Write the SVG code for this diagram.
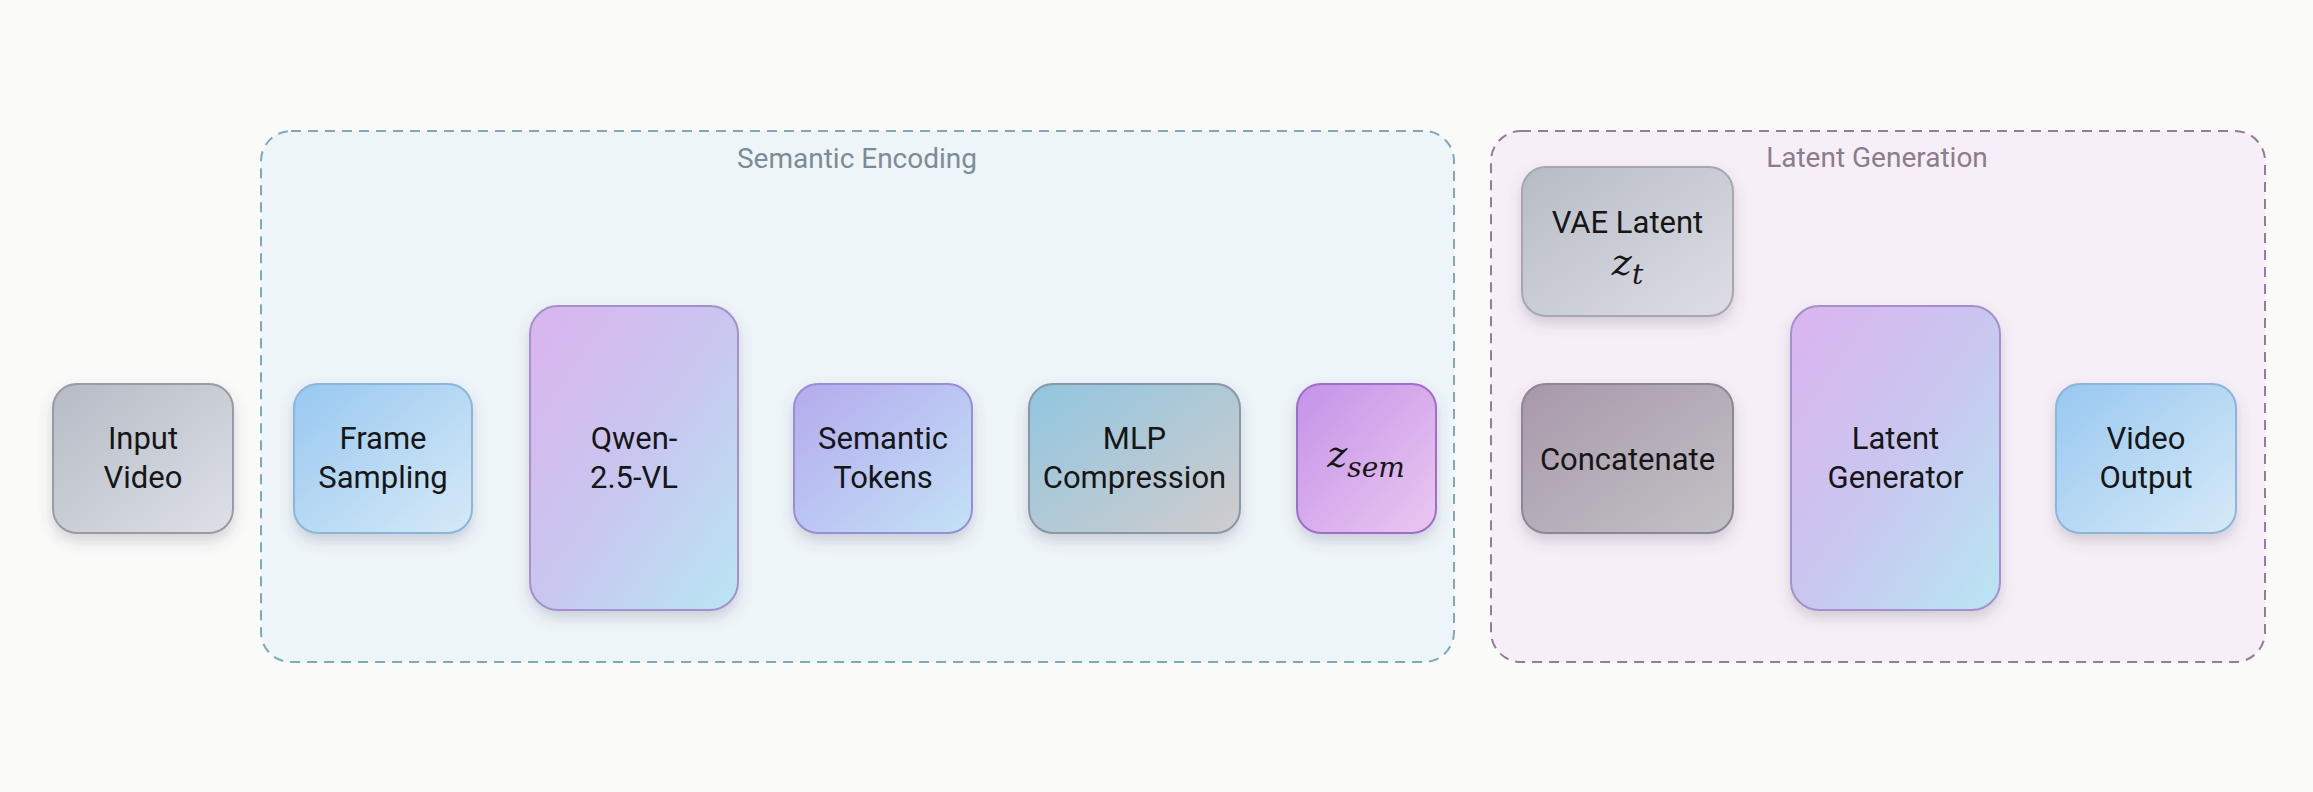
<svg xmlns="http://www.w3.org/2000/svg" width="2313" height="792" viewBox="0 0 2313 792">
  <defs>
    <filter id="shadow" x="-20%" y="-20%" width="140%" height="150%">
      <feDropShadow dx="0" dy="7" stdDeviation="7" flood-color="#4a4a60" flood-opacity="0.22"/>
    </filter>
    <linearGradient id="gGray" x1="0" y1="0" x2="1" y2="1">
      <stop offset="0" stop-color="#b5bbc4"/>
      <stop offset="1" stop-color="#dde0e8"/>
    </linearGradient>
    <linearGradient id="gBlue" x1="0" y1="0" x2="1" y2="1">
      <stop offset="0" stop-color="#98c8f0"/>
      <stop offset="1" stop-color="#d6e9f7"/>
    </linearGradient>
    <linearGradient id="gQwen" x1="0" y1="0" x2="1" y2="1">
      <stop offset="0" stop-color="#dbb4ee"/>
      <stop offset="0.5" stop-color="#c9c6f0"/>
      <stop offset="1" stop-color="#b8e6f2"/>
    </linearGradient>
    <linearGradient id="gTokens" x1="0" y1="0" x2="1" y2="1">
      <stop offset="0" stop-color="#b4aaee"/>
      <stop offset="1" stop-color="#c2e2f6"/>
    </linearGradient>
    <linearGradient id="gMlp" x1="0" y1="0" x2="1" y2="1">
      <stop offset="0" stop-color="#90c6e0"/>
      <stop offset="1" stop-color="#d0cccc"/>
    </linearGradient>
    <linearGradient id="gZsem" x1="0" y1="0" x2="1" y2="1">
      <stop offset="0" stop-color="#c492e8"/>
      <stop offset="1" stop-color="#eac8f0"/>
    </linearGradient>
    <linearGradient id="gVae" x1="0" y1="0" x2="1" y2="1">
      <stop offset="0" stop-color="#b6bcc4"/>
      <stop offset="1" stop-color="#dedde6"/>
    </linearGradient>
    <linearGradient id="gConcat" x1="0" y1="0" x2="1" y2="1">
      <stop offset="0" stop-color="#a898aa"/>
      <stop offset="1" stop-color="#c2c2c6"/>
    </linearGradient>
    <style>
      .node { stroke-width: 2; filter: url(#shadow); }
      .lbl { font-family: Roboto, "Liberation Sans", sans-serif; font-size: 31px; fill: #161616; text-anchor: middle; }
      .math { font-family: "DejaVu Serif", "Liberation Serif", serif; font-style: italic; fill: #161616; }
      .grpTitle { font-family: Roboto, "Liberation Sans", sans-serif; font-size: 28px; text-anchor: middle; }
      .grp { stroke-width: 2; stroke-dasharray: 10 7; }
    </style>
  </defs>

  <rect x="0" y="0" width="2313" height="792" fill="#fafaf8"/>

  <g id="group-semantic-encoding">
    <rect class="grp" x="261" y="131" width="1193" height="531" rx="30" fill="#eef5f9" stroke="#7ea8bc"/>
    <text class="grpTitle" x="857" y="168" fill="#7b8c96">Semantic Encoding</text>
  </g>

  <g id="group-latent-generation">
    <rect class="grp" x="1491" y="131" width="774" height="531" rx="30" fill="#f7eff7" stroke="#977a9c"/>
    <text class="grpTitle" x="1877" y="167" fill="#8c7c8c">Latent Generation</text>
  </g>

  <g id="connectors"></g>

  <g id="node-input-video">
    <rect class="node" x="53" y="384" width="180" height="149" rx="24" fill="url(#gGray)" stroke="#9c9aa4"/>
    <text class="lbl" x="143" y="449">Input</text>
    <text class="lbl" x="143" y="488">Video</text>
  </g>

  <g id="node-frame-sampling">
    <rect class="node" x="294" y="384" width="178" height="149" rx="24" fill="url(#gBlue)" stroke="#8ab6da"/>
    <text class="lbl" x="383" y="449">Frame</text>
    <text class="lbl" x="383" y="488">Sampling</text>
  </g>

  <g id="node-qwen">
    <rect class="node" x="530" y="306" width="208" height="304" rx="28" fill="url(#gQwen)" stroke="#a690cc"/>
    <text class="lbl" x="634" y="449">Qwen-</text>
    <text class="lbl" x="634" y="488">2.5-VL</text>
  </g>

  <g id="node-semantic-tokens">
    <rect class="node" x="794" y="384" width="178" height="149" rx="24" fill="url(#gTokens)" stroke="#988ed6"/>
    <text class="lbl" x="883" y="449">Semantic</text>
    <text class="lbl" x="883" y="488">Tokens</text>
  </g>

  <g id="node-mlp-compression">
    <rect class="node" x="1029" y="384" width="211" height="149" rx="24" fill="url(#gMlp)" stroke="#8a98a6"/>
    <text class="lbl" x="1134.5" y="449">MLP</text>
    <text class="lbl" x="1134.5" y="488">Compression</text>
  </g>

  <g id="node-z-sem">
    <rect class="node" x="1297" y="384" width="139" height="149" rx="24" fill="url(#gZsem)" stroke="#a06ec8"/>
    <text class="math" x="1366" y="467" text-anchor="middle"><tspan font-size="38">z</tspan><tspan font-size="28" dy="10">sem</tspan></text>
  </g>

  <g id="node-vae-latent">
    <rect class="node" x="1522" y="167" width="211" height="149" rx="24" fill="url(#gVae)" stroke="#a8a6b0"/>
    <text class="lbl" x="1627.5" y="233">VAE Latent</text>
    <text class="math" x="1627.5" y="275" text-anchor="middle"><tspan font-size="38">z</tspan><tspan font-size="28" dy="9">t</tspan></text>
  </g>

  <g id="node-concatenate">
    <rect class="node" x="1522" y="384" width="211" height="149" rx="24" fill="url(#gConcat)" stroke="#8e8696"/>
    <text class="lbl" x="1627.5" y="470">Concatenate</text>
  </g>

  <g id="node-latent-generator">
    <rect class="node" x="1791" y="306" width="209" height="304" rx="28" fill="url(#gQwen)" stroke="#a690cc"/>
    <text class="lbl" x="1895.5" y="449">Latent</text>
    <text class="lbl" x="1895.5" y="488">Generator</text>
  </g>

  <g id="node-video-output">
    <rect class="node" x="2056" y="384" width="180" height="149" rx="24" fill="url(#gBlue)" stroke="#8ab6da"/>
    <text class="lbl" x="2146" y="449">Video</text>
    <text class="lbl" x="2146" y="488">Output</text>
  </g>
</svg>
